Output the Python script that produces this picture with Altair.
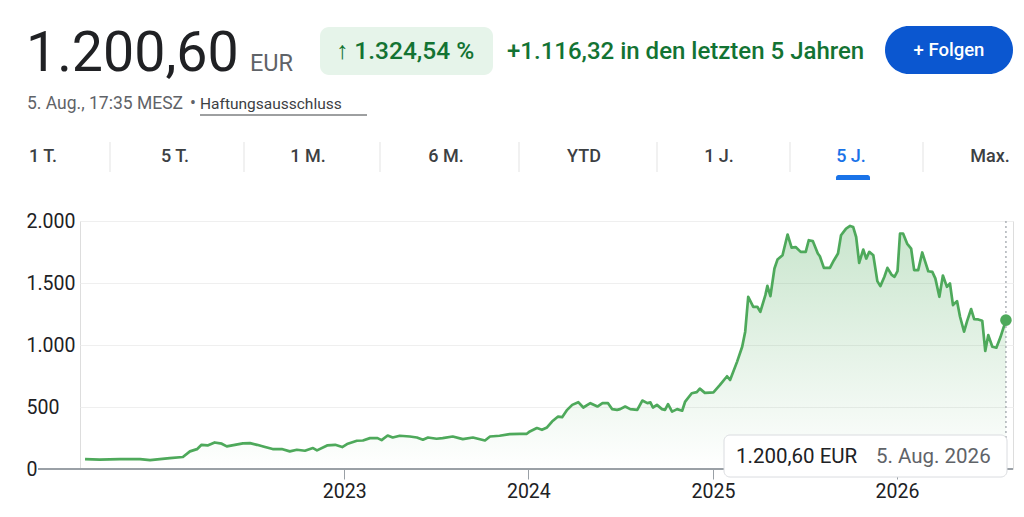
import altair as alt
import pandas as pd

# ---------------- data ----------------
dates = [
    "2021-08-05", "2021-09-03", "2021-10-13", "2021-11-22", "2021-12-12",
    "2022-01-20", "2022-02-15", "2022-03-01", "2022-03-15", "2022-03-24",
    "2022-04-05", "2022-04-19", "2022-05-03", "2022-05-13", "2022-05-29",
    "2022-06-14", "2022-06-28", "2022-07-12", "2022-07-28", "2022-08-12",
    "2022-08-30", "2022-09-15", "2022-09-29", "2022-10-15", "2022-10-25",
    "2022-10-31", "2022-11-08", "2022-11-28", "2022-12-14", "2022-12-28",
    "2023-01-08", "2023-01-26", "2023-02-07", "2023-02-21", "2023-03-08",
    "2023-03-16", "2023-03-28", "2023-04-07", "2023-04-21", "2023-05-11",
    "2023-05-25", "2023-06-06", "2023-06-16", "2023-07-03", "2023-07-15",
    "2023-08-04", "2023-08-24", "2023-09-13", "2023-10-07", "2023-10-17",
    "2023-11-05", "2023-11-25", "2023-12-15", "2023-12-29",
    "2024-01-04", "2024-01-18", "2024-01-28", "2024-02-07", "2024-02-17",
    "2024-02-29", "2024-03-08", "2024-03-18", "2024-03-28", "2024-04-09",
    "2024-04-19", "2024-05-03", "2024-05-17", "2024-05-27", "2024-06-07",
    "2024-06-15", "2024-06-25", "2024-07-01", "2024-07-11", "2024-07-21",
    "2024-08-04", "2024-08-14", "2024-08-24", "2024-08-30", "2024-09-04",
    "2024-09-12", "2024-09-22", "2024-09-28", "2024-10-04", "2024-10-12",
    "2024-10-22", "2024-11-01", "2024-11-07", "2024-11-20", "2024-11-30",
    "2024-12-06", "2024-12-16", "2024-12-26",
    "2025-01-02", "2025-01-15", "2025-01-29", "2025-02-04", "2025-02-18",
    "2025-02-28", "2025-03-06", "2025-03-12", "2025-03-22", "2025-03-30",
    "2025-04-05", "2025-04-15", "2025-04-19", "2025-04-25", "2025-05-03",
    "2025-05-09", "2025-05-19", "2025-05-29", "2025-06-06", "2025-06-14",
    "2025-06-24", "2025-07-04", "2025-07-10", "2025-07-18", "2025-07-28",
    "2025-08-01", "2025-08-09", "2025-08-21", "2025-08-29", "2025-09-06",
    "2025-09-12", "2025-09-22", "2025-09-30", "2025-10-06", "2025-10-12",
    "2025-10-18", "2025-10-26", "2025-11-01", "2025-11-07", "2025-11-15",
    "2025-11-23", "2025-11-29", "2025-12-07", "2025-12-13", "2025-12-21",
    "2025-12-27",
    "2026-01-02", "2026-01-07", "2026-01-13", "2026-01-21", "2026-01-29",
    "2026-02-04", "2026-02-12", "2026-02-20", "2026-02-26", "2026-03-04",
    "2026-03-12", "2026-03-18", "2026-03-26", "2026-04-02", "2026-04-10",
    "2026-04-16", "2026-04-22", "2026-04-30", "2026-05-06", "2026-05-14",
    "2026-05-20", "2026-05-28", "2026-06-03", "2026-06-11", "2026-06-19",
    "2026-06-25", "2026-07-01", "2026-07-09", "2026-07-17", "2026-07-25",
    "2026-08-05",
]
prices = [
    80, 75, 80, 80, 72,
    88, 97, 142, 160, 195,
    190, 214, 204, 182, 195,
    206, 209, 195, 177, 161,
    161, 142, 155, 147, 161,
    169, 150, 190, 195, 177,
    204, 228, 230, 249, 249,
    233, 270, 254, 268, 262,
    254, 236, 254, 244, 249,
    262, 241, 254, 230, 262,
    268, 281, 283, 284,
    303, 330, 316, 335, 383,
    423, 418, 477, 517, 539,
    496, 531, 504, 531, 531,
    483, 477, 483, 504, 483,
    477, 552, 531, 537, 496,
    517, 483, 477, 523, 463,
    483, 470, 544, 611, 620,
    648, 614, 616,
    618, 678, 748, 718, 866,
    986, 1107, 1389, 1308, 1308,
    1268, 1402, 1477, 1394, 1617,
    1689, 1724, 1891, 1786, 1790,
    1751, 1751, 1845, 1838, 1738,
    1716, 1622, 1622, 1684, 1738,
    1885, 1939, 1960, 1952, 1871,
    1662, 1770, 1697, 1751, 1724,
    1515, 1475, 1550, 1622, 1568,
    1550,
    1595, 1899, 1899, 1818, 1778,
    1604, 1604, 1746, 1671, 1595,
    1590, 1537, 1389, 1560, 1469,
    1496, 1322, 1354, 1228, 1107,
    1193, 1290, 1209, 1206, 1196,
    952, 1080, 986, 978, 1062,
    1200.60,
]
y_ticks = [0, 500, 1000, 1500, 2000]
x_tick_years = [2023, 2024, 2025, 2026]
tabs = ["1 T.", "5 T.", "1 M.", "6 M.", "YTD", "1 J.", "5 J.", "Max."]

price_text = "1.200,60"
currency = "EUR"
change_pct = "\u2191 1.324,54 %"
change_abs = "+1.116,32 in den letzten 5 Jahren"
follow = "+  Folgen"
stamp = "5. Aug., 17:35 MESZ"
bullet = "\u2022"
disclaimer = "Haftungsausschluss"
tip_value = "1.200,60 EUR"
tip_date = "5. Aug. 2026"

df = pd.DataFrame({"date": dates, "price": prices})
last = df.tail(1)

# ---------------- style ----------------
W, H = 933, 248
GREEN = "#4ea95b"
TXT_GREEN = "#137333"
FONT = "Roboto"

xscale = alt.Scale(domain=[alt.DateTime(year=2021, month=7, date=26),
                           alt.DateTime(year=2026, month=8, date=19)])
yscale = alt.Scale(domain=[0, 2000], nice=False)

xenc = alt.X("date:T", scale=xscale, title=None,
             axis=alt.Axis(values=[alt.DateTime(year=yr, month=1, date=1) for yr in x_tick_years],
                           format="%Y", grid=False, domain=False, ticks=True,
                           tickSize=10, tickColor="#9aa0a6", tickWidth=1,
                           labelPadding=3, labelFontSize=19.5, labelColor="#202124",
                           labelFont=FONT))
yenc = alt.Y("price:Q", scale=yscale, title=None,
             axis=alt.Axis(values=y_ticks, domain=False, ticks=False, tickSize=0,
                           labelAlign="left", labelPadding=54, labelFontSize=19.5,
                           labelColor="#202124", labelFont=FONT,
                           labelExpr="replace(format(datum.value, ','), ',', '.')",
                           gridColor="#efefef", gridWidth=1))

base = alt.Chart(df)

area = base.mark_area(
    line=False,
    color=alt.Gradient(
        gradient="linear",
        stops=[alt.GradientStop(color="rgba(76,170,90,0.30)", offset=0),
               alt.GradientStop(color="rgba(76,170,90,0.0)", offset=1)],
        x1=1, x2=1, y1=0, y2=1),
).encode(x=xenc, y=yenc)

line = base.mark_line(color=GREEN, strokeWidth=2.7, strokeJoin="round").encode(
    x=alt.X("date:T", scale=xscale), y=alt.Y("price:Q", scale=yscale))

one = alt.Data(values=[{"k": 0}])

baseline = alt.Chart(one).mark_rule(color="#9aa0a6", strokeWidth=2).encode(
    x=alt.value(-42), x2=alt.value(W), y=alt.value(H))

vline = alt.Chart(last).mark_rule(color="#9aa0a6", strokeWidth=1.2, strokeDash=[2, 3]).encode(
    x=alt.X("date:T", scale=xscale), y=alt.value(0), y2=alt.value(H))

dot = alt.Chart(last).mark_circle(color=GREEN, size=135, opacity=1).encode(
    x=alt.X("date:T", scale=xscale), y=alt.Y("price:Q", scale=yscale))

layers = [area, line, baseline, vline, dot]

# tooltip box
layers.append(alt.Chart(one).mark_rect(fill="white", stroke="#dadce0", strokeWidth=1,
                                       cornerRadius=6).encode(
    x=alt.value(644), x2=alt.value(927), y=alt.value(214), y2=alt.value(256)))
layers.append(alt.Chart(one).mark_text(text=tip_value, align="left", baseline="middle",
                                       font=FONT, fontSize=20.5, color="#202124").encode(
    x=alt.value(656), y=alt.value(236)))
layers.append(alt.Chart(one).mark_text(text=tip_date, align="left", baseline="middle",
                                       font=FONT, fontSize=20.5, color="#5f6368").encode(
    x=alt.value(796), y=alt.value(236)))

# header (positions relative to plot origin at page x=80, y=221)
def txt(text, x, y, size, color, weight=400, align="left", baseline="alphabetic"):
    return alt.Chart(one).mark_text(text=text, align=align, baseline=baseline, font=FONT,
                                    fontSize=size, fontWeight=weight, color=color).encode(
        x=alt.value(x), y=alt.value(y))

def box(x1, x2, y1, y2, fill, radius):
    return alt.Chart(one).mark_rect(fill=fill, cornerRadius=radius).encode(
        x=alt.value(x1), x2=alt.value(x2), y=alt.value(y1), y2=alt.value(y2))

layers.append(txt(price_text, -54, -150, 55.5, "#202124"))
layers.append(txt(currency, 170, -150, 23.5, "#5f6368"))
layers.append(box(240, 413, -194, -146, "#e6f4ea", 9))
layers.append(txt(change_pct, 256, -162, 24.5, TXT_GREEN, 500))
layers.append(txt(change_abs, 427, -162, 24, TXT_GREEN, 500))
layers.append(box(805, 933, -195, -147, "#0b57d0", 24))
layers.append(txt(follow, 869, -171, 18.5, "white", 500, align="center", baseline="middle"))
layers.append(txt(stamp, -53, -117, 17.5, "#5f6368", baseline="middle"))
layers.append(txt(bullet, 110, -117, 17.5, "#5f6368", baseline="middle"))
layers.append(txt(disclaimer, 120, -117, 15.5, "#3c4043", baseline="middle"))
layers.append(alt.Chart(one).mark_rule(color="#3c4043", strokeWidth=1).encode(
    x=alt.value(120), x2=alt.value(287), y=alt.value(-106)))

tab_x = [-37, 95, 228, 366, 504, 639, 771, 910]
for label, tx in zip(tabs, tab_x):
    col = "#1a73e8" if label == "5 J." else "#3c4043"
    layers.append(txt(label, tx, -64, 18, col, 500, align="center", baseline="middle"))
for sx in [30, 164, 300, 439, 577, 710, 843]:
    layers.append(alt.Chart(one).mark_rule(color="#e3e3e3", strokeWidth=1).encode(
        x=alt.value(sx), y=alt.value(-79), y2=alt.value(-49)))
layers.append(alt.Chart(one).mark_rect(fill="#1a73e8", cornerRadiusTopLeft=3,
                                       cornerRadiusTopRight=3).encode(
    x=alt.value(756), x2=alt.value(790), y=alt.value(-46), y2=alt.value(-41)))

chart = alt.layer(*layers).properties(
    width=W, height=H,
    autosize=alt.AutoSizeParams(type="none"),
    padding={"left": 72, "top": 213, "right": 3, "bottom": 40},
).configure_view(stroke="transparent", strokeWidth=0).configure(background="white")

chart.save("out.html", embed_options={"renderer": "svg", "actions": False})
